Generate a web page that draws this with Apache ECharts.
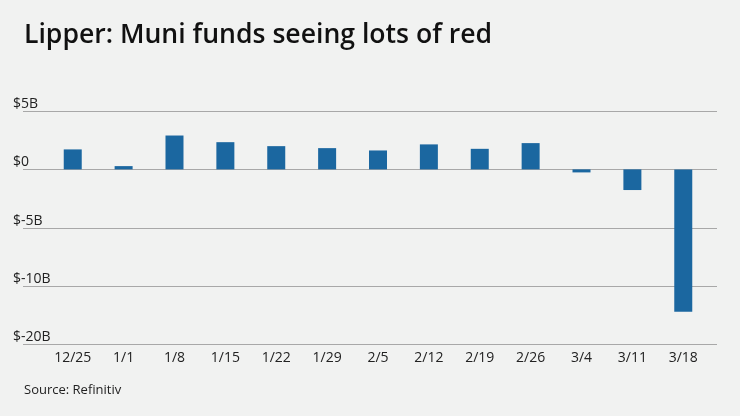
<!DOCTYPE html>
<html><head><meta charset="utf-8">
<script src="https://cdn.jsdelivr.net/npm/echarts@6/dist/echarts.min.js"></script>
<style>html,body{margin:0;padding:0;background:#f1f2f1;}#c{width:740px;height:416px;}</style>
</head><body><div id="c"></div>
<script>
const categories = ['12/25','1/1','1/8','1/15','1/22','1/29','2/5','2/12','2/19','2/26','3/4','3/11','3/18'];
const flows = [1.71, 0.28, 2.9, 2.33, 1.99, 1.82, 1.62, 2.14, 1.76, 2.25, -0.26, -1.77, -12.2];
const tickValues = [5, 0, -5, -10, -15];
const tickLabels = ['$5B', '$0', '$-5B', '$-10B', '$-20B'];

const chart = echarts.init(document.getElementById('c'));
const fontFam = '"Open Sans", Lato, sans-serif';
chart.setOption({
  backgroundColor: '#f1f2f1',
  animation: false,
  title: [
    {text: 'Lipper: Muni funds seeing lots of red', left: 19, top: 17,
     textStyle: {fontFamily: fontFam, fontSize: 26.6, fontWeight: 600, color: '#111'}},
    {text: 'Source: Refinitiv', left: 19, top: 379,
     textStyle: {fontFamily: fontFam, fontSize: 13, fontWeight: 'normal', color: '#222'}}
  ],
  grid: [
    {left: 23, right: 23, top: 111, bottom: 71.5},
    {left: 47.3, right: 31.3, top: 111, bottom: 71.5}
  ],
  xAxis: [
    {gridIndex: 0, type: 'value', min: 0, max: 1, show: false},
    {gridIndex: 1, type: 'category', data: categories,
     axisLine: {show: false}, axisTick: {show: false},
     axisLabel: {fontFamily: fontFam, fontSize: 14, color: '#222', margin: 7}}
  ],
  yAxis: [
    {gridIndex: 0, type: 'value', min: -15, max: 5, interval: 5,
     axisLine: {show: false}, axisTick: {show: false},
     splitLine: {lineStyle: {color: '#a8a8a8', width: 1}},
     axisLabel: {fontFamily: fontFam, fontSize: 14, color: '#222', align: 'left', verticalAlign: 'bottom', margin: 10,
       formatter: v => { const i = tickValues.indexOf(v); return i >= 0 ? tickLabels[i] : ''; }}},
    {gridIndex: 1, type: 'value', min: -15, max: 5, interval: 5, show: false, splitLine: {show: false}}
  ],
  series: [{
    type: 'bar', xAxisIndex: 1, yAxisIndex: 1, data: flows, barWidth: 18,
    itemStyle: {color: '#1b67a0'}
  }]
});
</script></body></html>
